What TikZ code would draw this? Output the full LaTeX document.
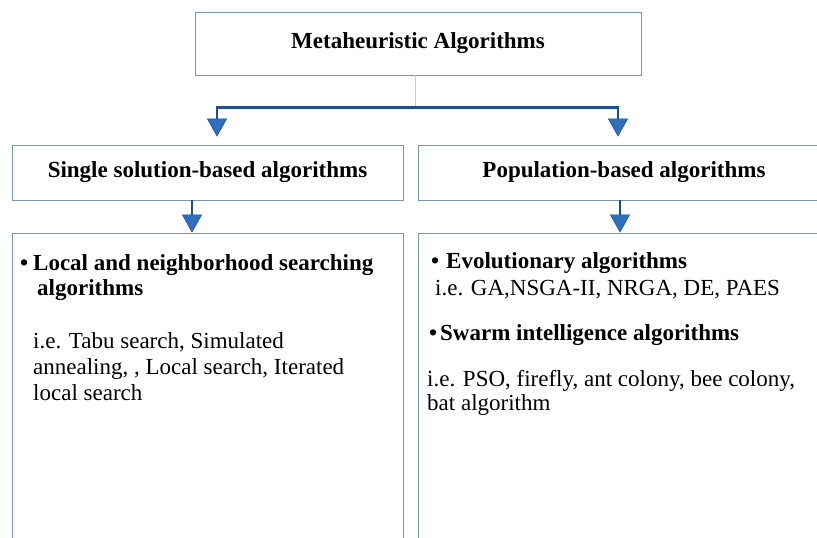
\documentclass[tikz,border=0pt]{standalone}
\usepackage{fontspec}
\setmainfont{Liberation Serif}
\usetikzlibrary{arrows.meta, positioning, calc}

\definecolor{boxline}{RGB}{122,150,182}
\definecolor{trunkblue}{RGB}{31,78,140}
\definecolor{tipblue}{RGB}{46,112,190}
\definecolor{stemgray}{RGB}{192,205,220}

\tikzset{
  catbox/.style={draw=boxline, line width=0.9pt, fill=white, inner sep=0pt,
    font=\fontsize{23}{26}\selectfont\bfseries},
  listbox/.style={draw=boxline, line width=0.9pt, fill=white, inner sep=0pt},
  entry/.style={anchor=base west, inner sep=0pt, font=\fontsize{23}{26}\selectfont},
  entrybf/.style={entry, font=\fontsize{23}{26}\selectfont\bfseries},
  flow/.style={draw=trunkblue, line width=2.6pt,
    -{Triangle[length=18pt, width=20pt, line width=0.6pt, fill=tipblue]}}
}

\begin{document}
\begin{tikzpicture}[x=1pt, y=1pt]
      \clip (0,0) rectangle (817,-538);
      \fill[white] (0,0) rectangle (817,-538);

      % boxes
      \node[catbox, minimum width=446, minimum height=63] (meta) at (418,-43.5) {Metaheuristic Algorithms};
      \node[catbox, minimum width=391, minimum height=55] (single) at (207.5,-172.5) {Single solution-based algorithms};
      \node[catbox, minimum width=412, minimum height=55] (pop) at (624,-172.5) {Population-based algorithms};
      \node[listbox, minimum width=391, minimum height=330] (singlelist) at (207.5,-398) {};
      \node[listbox, minimum width=412, minimum height=330] (poplist) at (624,-398) {};

      % connectors
      \coordinate (split) at ($(meta.south)+(-3,-32)$);
      \coordinate (singledrop) at ($(single.north)+(9.5,8)$);
      \coordinate (popdrop) at ($(pop.north)+(-6,8)$);
      \draw[stemgray, line width=1pt] ([xshift=-3pt]meta.south) -- (split);
      \draw[flow] (split) -| (singledrop);
      \draw[flow] (split) -| (popdrop);
      \draw[flow] ([xshift=-15.5pt]single.south) -- ([xshift=-15.5pt]singlelist.north);
      \draw[flow] ([xshift=-4pt]pop.south) -- ([xshift=-4pt]poplist.north);

      % left list
      \node[entrybf] (loc1) at (20,-270) {\makebox[13pt][l]{•}Local and neighborhood searching};
      \node[entrybf] (loc2) at (37,-295) {algorithms};
      \node[entry] (tabu1) at (33,-348) {i.e. Tabu search, Simulated};
      \node[entry] (tabu2) at (33,-374) {annealing, , Local search, Iterated};
      \node[entry] (tabu3) at (33,-400) {local search};

      % right list
      \node[entrybf] (evo1) at (431,-268) {\makebox[15pt][l]{•}Evolutionary algorithms};
      \node[entry] (evo2) at (435,-295) {i.e. GA,NSGA-II, NRGA, DE, PAES};
      \node[entrybf] (swarm) at (429,-340) {\makebox[11pt][l]{•}Swarm intelligence algorithms};
      \node[entry] (pso1) at (427,-386) {i.e. PSO, firefly, ant colony, bee colony,};
      \node[entry] (pso2) at (427,-410) {bat algorithm};
    \end{tikzpicture}
\end{document}
